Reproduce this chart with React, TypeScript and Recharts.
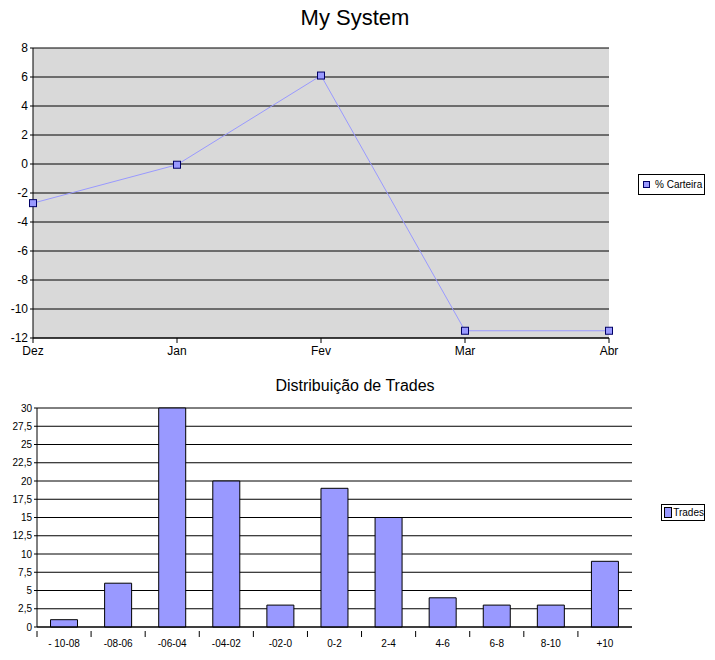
import React from 'react'
import {
  LineChart, Line, BarChart, Bar, XAxis, YAxis, CartesianGrid,
} from 'recharts'

const months = ['Dez', 'Jan', 'Fev', 'Mar', 'Abr']
const carteira = [-2.7, -0.05, 6.1, -11.5, -11.5]
const carteiraTicks = [-12, -10, -8, -6, -4, -2, 0, 2, 4, 6, 8]

const ranges = ['- 10-08', '-08-06', '-06-04', '-04-02', '-02-0', '0-2', '2-4', '4-6', '6-8', '8-10', '+10']
const trades = [1, 6, 30, 20, 3, 19, 15, 4, 3, 3, 9]
const tradeTicks = [0, 2.5, 5, 7.5, 10, 12.5, 15, 17.5, 20, 22.5, 25, 27.5, 30]

const FONT = '"Liberation Sans", Arial, sans-serif'
const PURPLE = '#9999FF'

const lineData = months.map((m, i) => ({ month: m, value: carteira[i] }))
const barData = ranges.map((r, i) => ({ range: r, trades: trades[i] }))

function SquareDot(props: any) {
  const { cx, cy } = props
  if (cx == null || cy == null) return null
  return <rect x={cx - 3.5} y={cy - 3.5} width={7} height={7} fill={PURPLE} stroke="#000066" strokeWidth={1} />
}

// labels at band centre, tick mark at the left edge of each band
function BandTick(props: any) {
  const { x, y, payload } = props
  const half = payload && payload.offset ? payload.offset : 27
  return (
    <g>
      <line x1={x - half} y1={y - 4} x2={x - half} y2={y + 2} stroke="#000" />
      <text x={x} y={y + 12} textAnchor="middle" fontSize={10} fill="#000" fontFamily={FONT}>
        {payload.value}
      </text>
    </g>
  )
}

export default function App() {
  return (
    <div style={{ position: 'absolute', left: 0, top: 0, width: 715, height: 660, background: '#fff', fontFamily: FONT }}>
      <div style={{ position: 'absolute', left: 0, top: 5, width: 710, textAlign: 'center', fontSize: 22 }}>
        My System
      </div>
      <div style={{ position: 'absolute', left: 0, top: 0 }}>
        <LineChart width={715} height={370} data={lineData} margin={{ top: 48, right: 106, left: 0, bottom: 0 }}>
          <CartesianGrid vertical={false} stroke="#000" fill="#D9D9D9" fillOpacity={1} />
          <XAxis
            dataKey="month"
            height={32}
            axisLine={{ stroke: '#000' }}
            tickLine={{ stroke: '#000' }}
            tickSize={5}
            tickMargin={3}
            tick={{ fill: '#000', fontSize: 12, fontFamily: FONT }}
          />
          <YAxis
            width={33}
            domain={[-12, 8]}
            ticks={carteiraTicks}
            interval={0}
            axisLine={{ stroke: '#000' }}
            tickLine={{ stroke: '#000' }}
            tickSize={3}
            tickMargin={2}
            tick={{ fill: '#000', fontSize: 12, fontFamily: FONT }}
          />
          <Line
            dataKey="value"
            name="% Carteira"
            stroke={PURPLE}
            strokeWidth={1}
            dot={<SquareDot />}
            activeDot={false}
            isAnimationActive={false}
          />
        </LineChart>
      </div>
      <div style={{
        position: 'absolute', left: 638, top: 174, width: 67, height: 21, border: '1px solid #000', background: '#fff',
        display: 'flex', alignItems: 'center', fontSize: 10, whiteSpace: 'nowrap', boxSizing: 'border-box',
      }}>
        <span style={{ width: 5, height: 5, background: PURPLE, border: '1px solid #000066', margin: '0 5px 0 4px' }} />
        % Carteira
      </div>

      <div style={{ position: 'absolute', left: 0, top: 377, width: 710, textAlign: 'center', fontSize: 16 }}>
        Distribuição de Trades
      </div>
      <div style={{ position: 'absolute', left: 0, top: 370 }}>
        <BarChart width={715} height={290} data={barData} barCategoryGap="25%" margin={{ top: 38, right: 83, left: 0, bottom: 0 }}>
          <CartesianGrid vertical={false} stroke="#000" />
          <XAxis
            dataKey="range"
            height={33}
            interval={0}
            axisLine={{ stroke: '#000' }}
            tickLine={false}
            tick={<BandTick />}
          />
          <YAxis
            width={37}
            domain={[0, 30]}
            ticks={tradeTicks}
            interval={0}
            axisLine={{ stroke: '#000' }}
            tickLine={{ stroke: '#000' }}
            tickSize={3}
            tickMargin={2}
            tickFormatter={(v: number) => String(v).replace('.', ',')}
            tick={{ fill: '#000', fontSize: 10, fontFamily: FONT }}
          />
          <Bar dataKey="trades" name="Trades" fill={PURPLE} stroke="#000" strokeWidth={1} isAnimationActive={false} />
        </BarChart>
      </div>
      <div style={{
        position: 'absolute', left: 661, top: 504, width: 44, height: 17, border: '1px solid #000', background: '#fff',
        display: 'flex', alignItems: 'center', fontSize: 10, whiteSpace: 'nowrap', boxSizing: 'border-box',
      }}>
        <span style={{ width: 7, height: 9, background: PURPLE, border: '1px solid #000', margin: '0 1px 0 2px' }} />
        Trades
      </div>
    </div>
  )
}
